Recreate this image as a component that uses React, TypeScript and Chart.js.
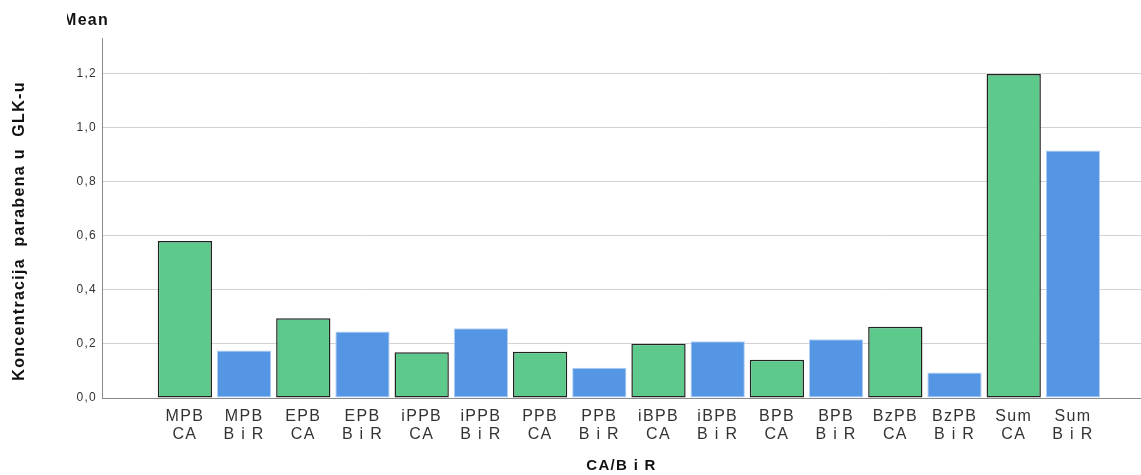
import React, { useEffect, useRef } from 'react';
import { Chart, registerables } from 'chart.js';

Chart.register(...registerables);

const parabens = ['MPB', 'MPB', 'EPB', 'EPB', 'iPPB', 'iPPB', 'PPB', 'PPB', 'iBPB', 'iBPB', 'BPB', 'BPB', 'BzPB', 'BzPB', 'Sum', 'Sum'];
const groups = ['CA', 'B i R', 'CA', 'B i R', 'CA', 'B i R', 'CA', 'B i R', 'CA', 'B i R', 'CA', 'B i R', 'CA', 'B i R', 'CA', 'B i R'];
const meanValues = [0.581, 0.176, 0.295, 0.246, 0.169, 0.258, 0.171, 0.112, 0.201, 0.210, 0.142, 0.218, 0.264, 0.094, 1.200, 0.916];
const yTicks = [0, 0.2, 0.4, 0.6, 0.8, 1.0, 1.2];

const yTitle = 'Koncentracija  parabena u  GLK-u';
const xTitle = 'CA/B i R';
const topLabel = 'Mean';

const GREEN = '#5DC98B';
const BLUE = '#5596E4';
const FONT = "'Liberation Sans', Arial, sans-serif";

export default function App() {
  const ref = useRef<HTMLCanvasElement | null>(null);

  useEffect(() => {
    if (!ref.current) return;
    const textPlugin = {
      id: 'textPlugin',
      beforeDraw(chart: any) {
        chart.ctx.letterSpacing = '1.3px';
      },
      afterDraw(chart: any) {
        const ctx = chart.ctx;
        ctx.save();
        ctx.beginPath();
        ctx.rect(67, 0, 200, 40);
        ctx.clip();
        ctx.fillStyle = '#111';
        ctx.font = `bold 16px ${FONT}`;
        ctx.textAlign = 'left';
        ctx.textBaseline = 'alphabetic';
        ctx.fillText(topLabel, 63, 25);
        ctx.restore();

        ctx.save();
        ctx.translate(20, 231);
        ctx.rotate(-Math.PI / 2);
        ctx.fillStyle = '#111';
        ctx.font = `bold 16px ${FONT}`;
        ctx.textAlign = 'center';
        ctx.textBaseline = 'middle';
        ctx.fillText(yTitle, 0, 0);
        ctx.restore();
        ctx.letterSpacing = '0px';
      },
    };

    const chart = new Chart(ref.current, {
      type: 'bar',
      data: {
        datasets: [
          {
            data: meanValues.map((v, i) => ({ x: i + 1, y: v })),
            backgroundColor: groups.map((g) => (g === 'CA' ? GREEN : BLUE)),
            borderColor: groups.map((g) => (g === 'CA' ? '#222222' : '#b3d0f4')),
            borderWidth: groups.map((g) => (g === 'CA' ? 1.5 : 1)),
            borderSkipped: false,
            barPercentage: 0.917,
            categoryPercentage: 1,
          },
        ],
      },
      options: {
        responsive: false,
        animation: false,
        devicePixelRatio: 1,
        layout: { padding: { top: 38, left: 0, right: 0, bottom: 0 } },
        plugins: {
          legend: { display: false },
          tooltip: { enabled: false },
          title: { display: false },
        },
        scales: {
          x: {
            type: 'linear',
            offset: false,
            min: -0.4,
            max: 17.15,
            afterBuildTicks: (scale: any) => {
              scale.ticks = parabens.map((_, i) => ({ value: i + 1 }));
            },
            afterFit: (scale: any) => {
              scale.height = 77;
            },
            grid: { display: false, drawTicks: false },
            border: { display: true, color: '#8a8a8a', width: 1 },
            ticks: {
              autoSkip: false,
              maxRotation: 0,
              minRotation: 0,
              padding: 10,
              color: '#333',
              font: { family: FONT, size: 16, lineHeight: 1.1 },
              callback: (v: any) => {
                const i = Math.round(Number(v)) - 1;
                return [parabens[i], groups[i]];
              },
            },
            title: {
              display: true,
              text: xTitle,
              color: '#111',
              font: { family: FONT, size: 15, weight: 'bold' },
              padding: { top: 0, bottom: 0 },
            },
          },
          y: {
            min: 0,
            max: 1.333,
            afterBuildTicks: (scale: any) => {
              scale.ticks = yTicks.map((v) => ({ value: v }));
            },
            afterFit: (scale: any) => {
              scale.width = 102;
            },
            grid: { color: '#d2d2d2', lineWidth: 1, drawTicks: false },
            border: { display: true, color: '#8a8a8a', width: 1 },
            ticks: {
              padding: 5,
              color: '#333',
              font: { family: FONT, size: 12 },
              callback: (v: any) => Number(v).toFixed(1).replace('.', ','),
            },
          },
        },
      },
      plugins: [textPlugin],
    } as any);

    return () => chart.destroy();
  }, []);

  return (
    <div style={{ position: 'fixed', left: 0, top: 0, width: 1141, height: 475, background: '#fff' }}>
      <canvas ref={ref} width={1141} height={475} style={{ display: 'block' }} />
    </div>
  );
}
